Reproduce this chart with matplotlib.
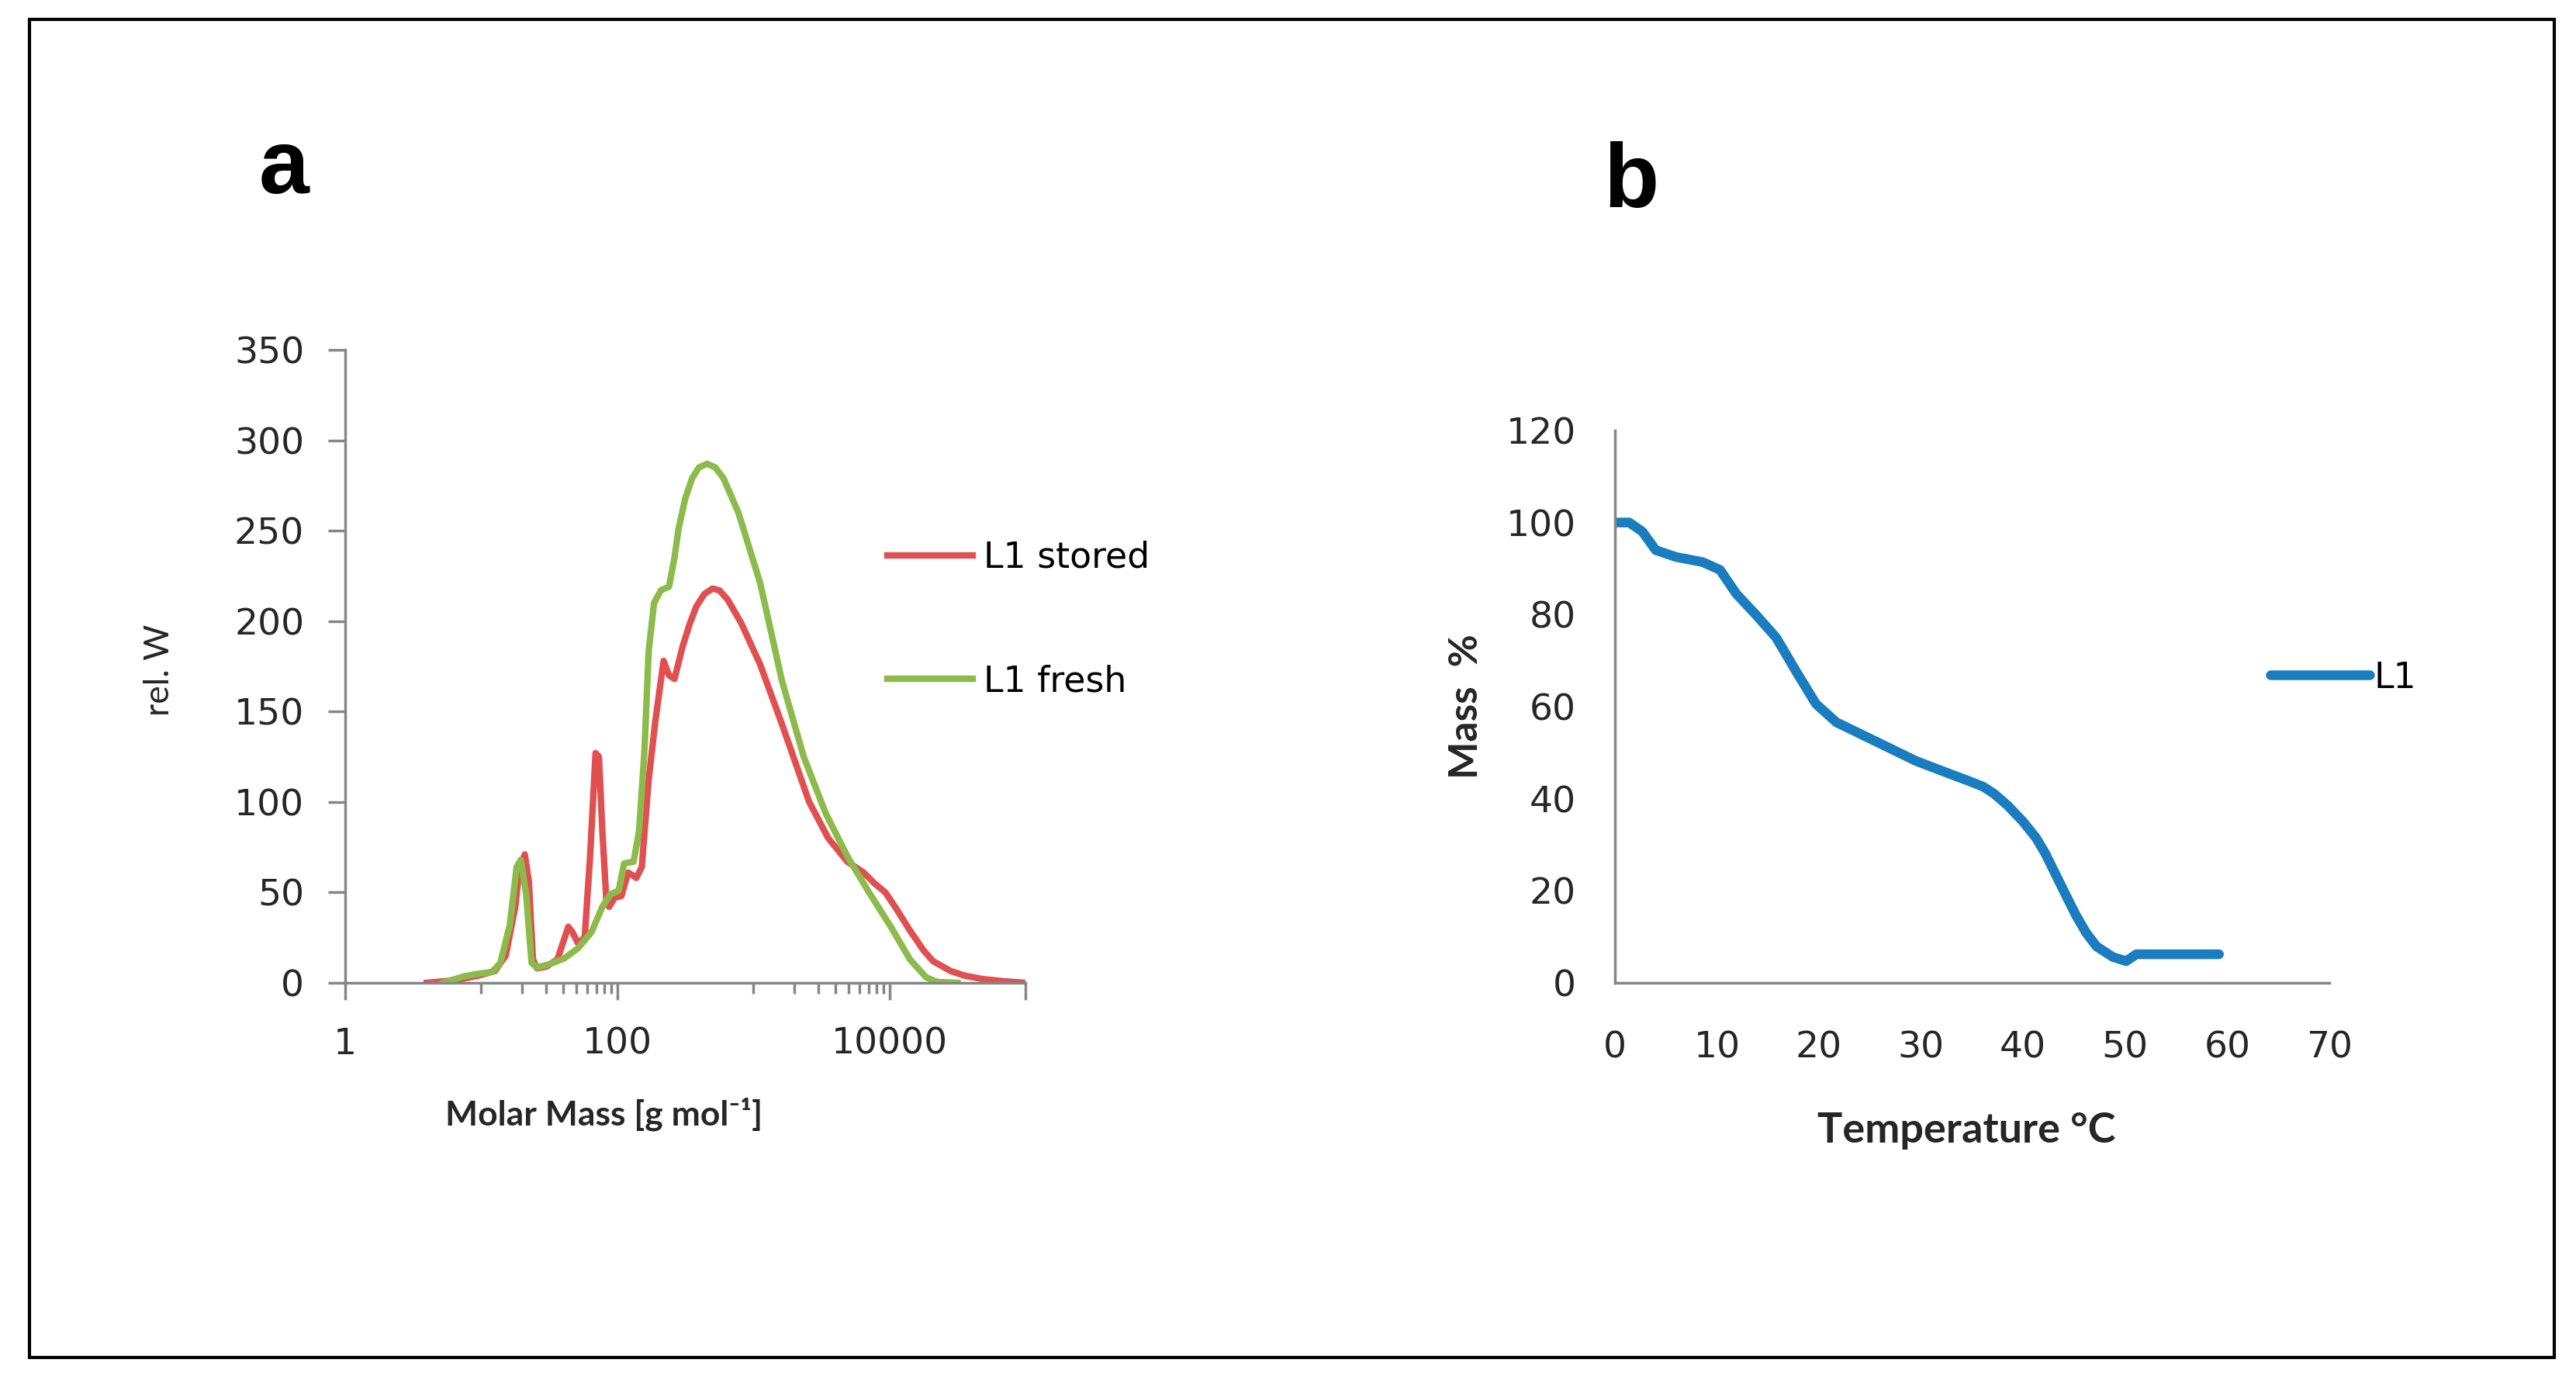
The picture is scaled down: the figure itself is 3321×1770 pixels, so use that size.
import matplotlib
matplotlib.use("Agg")
import matplotlib.pyplot as plt
from matplotlib.patches import Rectangle
from matplotlib.ticker import FixedLocator, FixedFormatter

# panel a: molar mass distribution, x given as log10(M)
logm_stored = [0.60, 0.75, 0.85, 0.98, 1.10, 1.18, 1.25, 1.28, 1.32, 1.35, 1.38, 1.41,
               1.48, 1.56, 1.64, 1.67, 1.71, 1.76, 1.80, 1.84, 1.865, 1.89, 1.92, 1.94,
               1.98, 2.03, 2.08, 2.14, 2.18, 2.23, 2.28, 2.34, 2.38, 2.42, 2.48, 2.53,
               2.58, 2.64, 2.70, 2.75, 2.81, 2.91, 3.05, 3.21, 3.41, 3.55, 3.69, 3.81,
               3.89, 3.97, 4.05, 4.15, 4.25, 4.32, 4.45, 4.55, 4.69, 4.85, 4.99]
w_stored = [0, 1, 2, 4, 6.5, 15, 42, 63, 71, 56, 13, 8,
            9, 13, 31, 28, 22, 25, 70, 127, 125, 84, 45, 42,
            47, 48, 61, 58, 64, 112, 145, 178, 170, 168, 186, 198,
            208, 215, 218, 217, 212, 199, 176, 143, 100, 80, 67, 61,
            55, 50, 41, 29, 18, 12, 6.5, 4, 2, 0.8, 0]

logm_fresh = [0.72, 0.87, 0.98, 1.08, 1.14, 1.21, 1.26, 1.29, 1.33, 1.37, 1.41, 1.51,
              1.61, 1.71, 1.81, 1.89, 1.95, 2.01, 2.05, 2.12, 2.16, 2.20, 2.23, 2.27,
              2.32, 2.38, 2.42, 2.45, 2.50, 2.55, 2.60, 2.66, 2.72, 2.78, 2.89, 3.05,
              3.21, 3.37, 3.53, 3.69, 3.85, 4.01, 4.15, 4.27, 4.35, 4.50]
w_fresh = [0, 3.5, 5, 6, 11, 32, 64, 68, 49, 11, 8.5, 10.5,
           13.5, 19, 28, 42, 49, 51, 66, 67, 84, 129, 183, 210,
           217, 219, 235, 251, 268, 279, 285, 287, 285, 279, 260, 221,
           167, 125, 94, 70, 50, 31, 13, 3, 0.5, 0]

# panel b: mass loss vs temperature
temp = [0, 1.4, 2.7, 4.0, 6.0, 8.6, 10.3, 11.9, 13.8, 15.8, 17.8, 19.7, 21.7,
        24.3, 26.9, 29.5, 32.8, 34.5, 36.1, 37.2, 38.5, 40.0, 41.3, 42.2, 43.2,
        44.2, 45.2, 46.2, 47.2, 48.8, 50.1, 51.1, 59.2]
mass = [100, 100, 98, 94, 92.5, 91.4, 89.7, 84.5, 80, 75, 67.5, 60.6, 56.6,
        53.8, 51, 48.2, 45.4, 44, 42.6, 41, 38.5, 35, 31.4, 28, 23.5,
        19, 14.6, 10.8, 7.9, 5.6, 4.7, 6.2, 6.2]

xmajor_a = [1, 100, 10000, 100000]
xlabels_a = ["1", "100", "10000", ""]
xminor_a = [10, 20, 30, 40, 50, 60, 70, 80, 90,
            1000, 2000, 3000, 4000, 5000, 6000, 7000, 8000, 9000]
yticks_a = [0, 50, 100, 150, 200, 250, 300, 350]
xticks_b = [0, 10, 20, 30, 40, 50, 60, 70]
yticks_b = [0, 20, 40, 60, 80, 100, 120]

plt.rcParams['font.family'] = ['DejaVu Sans']

red = '#e05050'
green = '#8cbb4c'
blue = '#1a7dc0'
axcol = '#868686'
txt = '#262626'

fig = plt.figure(figsize=(33.21, 17.70), dpi=100)

# ---- panel a
ax1 = fig.add_axes([0.134, 0.2842, 0.2641, 0.461])
ax1.plot([10 ** v for v in logm_stored], w_stored, color=red, lw=6, label='L1 stored')
ax1.plot([10 ** v for v in logm_fresh], w_fresh, color=green, lw=6, label='L1 fresh')
ax1.set_xscale('log')
ax1.set_xlim(1, 100000)
ax1.set_ylim(0, 350)
ax1.xaxis.set_major_locator(FixedLocator(xmajor_a))
ax1.xaxis.set_major_formatter(FixedFormatter(xlabels_a))
ax1.xaxis.set_minor_locator(FixedLocator(xminor_a))
ax1.xaxis.set_minor_formatter(FixedFormatter([""] * len(xminor_a)))
ax1.set_yticks(yticks_a)
for s in ['top', 'right']:
    ax1.spines[s].set_visible(False)
for s in ['left', 'bottom']:
    ax1.spines[s].set_color(axcol)
    ax1.spines[s].set_linewidth(2.5)
ax1.tick_params(axis='both', which='major', direction='out', length=16, width=2.5,
                color=axcol, labelsize=34, labelcolor=txt)
ax1.tick_params(axis='y', pad=22)
ax1.tick_params(axis='x', pad=25)
ax1.tick_params(axis='x', which='minor', direction='out', length=10, width=2.5, color=axcol)
ax1.legend(loc='center left', bbox_to_anchor=(0.3445, 0.5486), bbox_transform=fig.transFigure,
           frameon=False, fontsize=33, handlelength=2.4, handletextpad=0.3,
           labelspacing=2.5, borderpad=0, borderaxespad=0)

# ---- panel b
ax2 = fig.add_axes([0.6269, 0.2842, 0.2773, 0.4023])
ax2.plot(temp, mass, color=blue, lw=9, label='L1', solid_capstyle='round')
ax2.set_xlim(0, 70)
ax2.set_ylim(0, 120)
ax2.set_xticks(xticks_b)
ax2.set_yticks(yticks_b)
for s in ['top', 'right']:
    ax2.spines[s].set_visible(False)
for s in ['left', 'bottom']:
    ax2.spines[s].set_color(axcol)
    ax2.spines[s].set_linewidth(2.5)
ax2.tick_params(axis='both', length=0, labelsize=34, labelcolor=txt)
ax2.tick_params(axis='y', pad=36)
ax2.tick_params(axis='x', pad=44)
ax2.legend(loc='center left', bbox_to_anchor=(0.8814, 0.5062), bbox_transform=fig.transFigure,
           frameon=False, fontsize=33, handlelength=2.8, handletextpad=0.1,
           borderpad=0, borderaxespad=0)

# ---- labels
fig.text(366 / 3321, 1 - 218 / 1770, 'a', fontsize=84, fontweight='bold',
         family='Liberation Sans', ha='center', va='center')
fig.text(2103 / 3321, 1 - 237 / 1770, 'b', fontsize=84, fontweight='bold',
         family='Liberation Sans', ha='center', va='center')
fig.text(779 / 3321, 1 - 1436 / 1770, 'Molar Mass [g mol⁻¹]', fontsize=32,
         fontweight='bold', family=['Lato', 'DejaVu Sans'], ha='center', va='center', color=txt)
fig.text(205 / 3321, 1 - 864 / 1770, 'rel. W', fontsize=32, rotation=90,
         family=['Lato', 'DejaVu Sans'], ha='center', va='center', color=txt)
fig.text(2535 / 3321, 1 - 1457 / 1770, 'Temperature °C', fontsize=39,
         fontweight='bold', family=['Lato', 'DejaVu Sans'], ha='center', va='center', color=txt)
fig.text(1891 / 3321, 1 - 911 / 1770, 'Mass  %', fontsize=37, rotation=90,
         fontweight='bold', family=['Lato', 'DejaVu Sans'], ha='center', va='center', color=txt)

# outer frame
fig.patches.append(Rectangle((38 / 3321, 1 - 1750 / 1770), (3293 - 38) / 3321,
                             (1750 - 25) / 1770, transform=fig.transFigure,
                             fill=False, lw=3, ec='black'))

fig.savefig('out.png', dpi=100)
